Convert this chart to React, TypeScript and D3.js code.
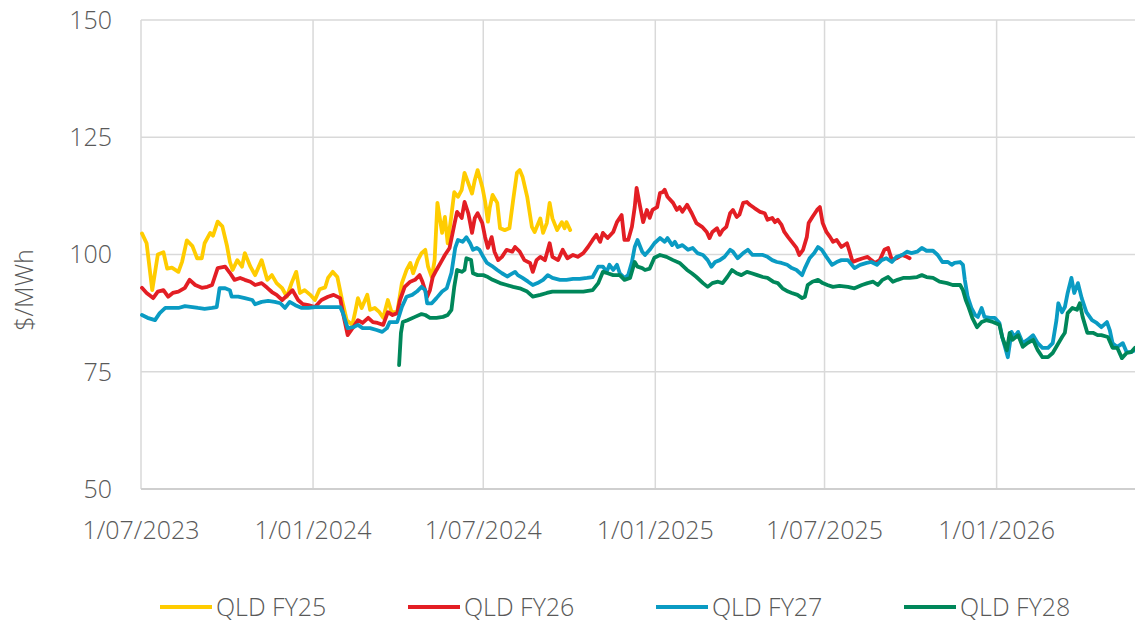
import React from 'react';
import * as d3 from 'd3';

// QLD base futures, $/MWh. Each point: [days since 1/07/2023, price]
const START = new Date(2023, 6, 1);
const END = new Date(2026, 4, 29);

const QLD_FY25: [number, number][] = [
  [1, 104.5], [6, 102.4], [12, 92.4], [18, 100], [24, 100.5], [28, 97], [33, 97.2], [40, 96.3],
  [44, 98.5], [49, 103], [55, 101.8], [60, 99.2], [65, 99.2], [68, 102.4], [74, 104.6], [77, 104],
  [82, 107], [87, 106], [92, 101.8], [95, 98.5], [98, 96.7], [103, 98.8], [108, 97.4], [111, 100.3],
  [117, 97.4], [122, 95.6], [129, 98.8], [135, 94.6], [140, 95.6], [145, 93.9], [151, 92.8], [156, 91],
  [161, 93.9], [166, 96.3], [170, 91.8], [175, 92.4], [181, 91.4], [186, 90.3], [191, 92.6], [197, 93],
  [200, 95], [205, 96.3], [210, 95.2], [215, 90.3], [220, 86], [226, 85], [229, 87.7], [232, 90.7],
  [236, 88.6], [242, 91.4], [245, 88.2], [250, 88.6], [255, 87.7], [259, 86.5], [264, 90.3], [268, 87.7],
  [274, 87.7], [279, 93.9], [284, 96.7], [288, 98.2], [291, 96], [296, 98.8], [300, 100.3], [304, 101],
  [307, 97.4], [311, 95.2], [314, 98.8], [317, 111], [322, 104.6], [325, 108], [328, 102.4], [332, 108.4],
  [335, 113.3], [339, 112.3], [343, 113.8], [346, 117.4], [350, 115.2], [354, 113], [357, 115.9], [360, 118],
  [365, 114.4], [368, 111.3], [371, 107], [373, 110], [376, 112.7], [381, 111], [384, 105.6], [389, 105.2],
  [394, 105.6], [398, 111.6], [402, 117.4], [405, 118], [408, 116.6], [413, 112.3], [418, 105.9], [421, 104.8],
  [427, 107.7], [430, 104.6], [434, 106.7], [437, 111], [440, 107.7], [445, 105.2], [450, 106.9], [453, 105.6],
  [455, 106.9], [459, 105.2],
];

const QLD_FY26: [number, number][] = [
  [1, 92.9], [6, 91.8], [13, 90.7], [18, 92.1], [24, 92.4], [29, 91], [34, 91.8], [40, 92.1],
  [47, 92.9], [52, 94.6], [58, 93.5], [65, 92.9], [71, 93.1], [76, 93.5], [82, 97.1], [90, 97.4],
  [95, 96.1], [100, 94.6], [106, 95], [111, 94.6], [117, 94.2], [122, 93.5], [129, 93.9], [135, 92.9],
  [140, 92], [145, 91.4], [151, 90.3], [157, 91.4], [162, 92.4], [168, 90.3], [173, 89.4], [179, 89.2],
  [186, 88.8], [193, 90.3], [200, 91], [206, 91.4], [213, 90.7], [216, 87.5], [221, 82.8], [227, 84.5],
  [232, 86], [237, 85.4], [243, 86.5], [248, 85.6], [253, 85.4], [259, 85], [264, 87.7], [269, 87.1],
  [274, 87.5], [277, 90.3], [282, 93.1], [288, 94.2], [293, 94.6], [298, 95.6], [301, 94.2], [306, 91],
  [309, 92.4], [312, 95.2], [316, 96.7], [322, 98.8], [325, 99.9], [330, 101.4], [335, 106.3], [338, 109.1],
  [343, 107.8], [346, 111.2], [350, 108.8], [354, 104.6], [357, 107.8], [360, 108.8], [365, 106.7], [368, 103.7],
  [371, 101.4], [375, 103.7], [378, 100.6], [382, 98.8], [386, 99.5], [391, 101], [397, 100.6], [400, 101.6],
  [405, 100.6], [410, 98.8], [416, 98.2], [419, 96.3], [423, 98.8], [427, 99.5], [432, 98.8], [437, 102.4],
  [440, 99.5], [446, 98.8], [451, 101], [456, 99.2], [462, 99.9], [467, 99.5], [473, 100.3], [478, 101.6],
  [483, 103.1], [487, 104.2], [491, 102.7], [494, 104.6], [499, 103.5], [505, 104.8], [509, 106.9], [514, 108.4],
  [517, 103.1], [521, 103.1], [525, 105.9], [528, 110.1], [530, 114.2], [533, 111], [537, 106.9], [541, 109.5],
  [544, 107.8], [547, 109.5], [552, 110.1], [555, 113.1], [558, 113.3], [560, 113.8], [563, 112.3], [569, 111],
  [573, 109.5], [576, 110.1], [579, 109.1], [584, 110.6], [589, 108.8], [594, 106.7], [600, 105.9], [605, 104.8],
  [608, 103.5], [611, 104.8], [616, 105.6], [619, 104.2], [622, 105.2], [626, 105.9], [630, 108.8], [633, 109.5],
  [637, 108], [640, 108.5], [644, 111], [648, 111.2], [651, 110.6], [656, 109.9], [662, 109.1], [667, 108.8],
  [670, 107.4], [675, 107.8], [678, 106.9], [681, 107.4], [685, 106.3], [688, 104.8], [692, 103.7], [696, 102.7],
  [701, 101.4], [704, 99.9], [708, 101], [712, 103.7], [714, 106.7], [718, 108], [723, 109.5], [726, 110.1],
  [729, 106.7], [733, 104.8], [737, 103.7], [740, 102.7], [744, 103.1], [749, 101.6], [755, 102.4], [758, 100.5],
  [761, 98.4], [766, 98.8], [772, 99.2], [777, 99.5], [781, 98.8], [785, 98.2], [790, 98.8], [795, 101],
  [799, 101.4], [803, 98.8], [808, 99.2], [814, 99.9], [819, 99.5], [822, 99.2],
];

const QLD_FY27: [number, number][] = [
  [1, 87.1], [7, 86.5], [15, 86], [20, 87.5], [26, 88.6], [33, 88.6], [40, 88.6], [47, 89],
  [55, 88.8], [61, 88.6], [68, 88.4], [76, 88.6], [81, 88.8], [84, 92.8], [90, 92.8], [95, 92.4],
  [97, 91], [104, 91], [111, 90.7], [119, 90.3], [122, 89.4], [129, 89.9], [136, 90.1], [143, 89.9],
  [149, 89.6], [154, 88.6], [159, 89.9], [165, 89.2], [172, 88.6], [179, 88.6], [186, 88.8], [197, 88.8],
  [206, 88.8], [213, 88.8], [216, 87.5], [221, 84.3], [227, 84.5], [232, 85], [237, 84.3], [245, 84.3],
  [252, 83.9], [258, 83.5], [263, 84.3], [266, 85.6], [274, 85.6], [279, 88.8], [284, 91], [290, 91.4],
  [295, 92.1], [300, 93.1], [304, 92.4], [306, 89.6], [311, 89.6], [316, 90.7], [322, 92.1], [327, 92.8],
  [332, 96.1], [336, 101.4], [339, 103.1], [344, 102.7], [348, 103.7], [352, 102.4], [355, 101], [359, 101.4],
  [362, 101], [366, 99.5], [370, 98.2], [375, 97.6], [381, 96.7], [386, 96], [392, 95.3], [394, 95.6],
  [400, 96.3], [403, 95.6], [408, 95], [414, 94.2], [419, 93.5], [424, 93.9], [430, 94.6], [435, 95.6],
  [440, 95], [448, 94.6], [455, 94.6], [462, 94.8], [469, 94.8], [477, 95], [483, 95.2], [489, 97.4],
  [494, 97.4], [498, 96.3], [501, 97.8], [505, 96.7], [509, 97.8], [512, 96], [517, 95], [521, 95.6],
  [525, 98.4], [528, 101.6], [531, 103.1], [536, 100.6], [539, 99.9], [544, 101], [549, 102.4], [555, 103.5],
  [560, 102.7], [563, 103.5], [568, 102], [571, 102.7], [574, 101.6], [579, 102], [585, 101], [590, 101.4],
  [595, 100.3], [601, 99.9], [606, 98.8], [610, 97.4], [614, 98.4], [619, 98.8], [624, 99.5], [630, 101],
  [633, 100.6], [638, 99.2], [644, 100.3], [649, 101], [654, 99.9], [660, 99.9], [665, 99.9], [670, 99.5],
  [675, 98.8], [680, 98.4], [685, 98.2], [691, 97.8], [696, 97.1], [701, 96.7], [707, 95.6], [710, 97.1],
  [715, 99.2], [720, 100.3], [724, 101.6], [728, 101], [733, 99.5], [739, 97.8], [744, 98.4], [749, 98.8],
  [756, 98.8], [763, 97.1], [769, 97.8], [776, 98.2], [781, 98.4], [787, 97.8], [792, 98.8], [797, 99.2],
  [803, 98.4], [808, 99.5], [814, 99.9], [819, 100.6], [824, 100.3], [830, 100.6], [835, 101.4], [840, 100.8],
  [847, 100.8], [852, 99.9], [857, 98.4], [863, 98.4], [867, 97.8], [870, 98.2], [876, 98.4], [879, 97.8],
  [881, 94.6], [884, 91], [888, 88.6], [892, 87.1], [895, 86.7], [899, 88.6], [902, 86.7], [908, 86.5],
  [913, 86.5], [918, 85.4], [921, 82.4], [927, 78.1], [931, 83.5], [934, 82.4], [938, 83.5], [943, 81.1],
  [948, 81.8], [954, 82.8], [959, 81.1], [964, 80.1], [970, 80.1], [975, 81.1], [979, 86], [981, 89.6],
  [985, 87.7], [988, 88.8], [991, 91.8], [995, 95], [998, 91.8], [1002, 93.9], [1006, 90.7], [1011, 87.7],
  [1017, 86], [1022, 85.4], [1027, 84.5], [1033, 85.6], [1036, 83.9], [1039, 81.1], [1044, 80.3], [1050, 81.1],
  [1054, 79.2], [1059, 79.2], [1063, 79.6],
];

const QLD_FY28: [number, number][] = [
  [276, 76.4], [278, 83.3], [280, 85.6], [285, 86], [293, 86.7], [300, 87.3], [304, 87.1], [309, 86.5],
  [316, 86.5], [323, 86.7], [328, 87.1], [332, 88.2], [335, 93.1], [338, 96.7], [343, 96.3], [346, 96.7],
  [348, 99.2], [353, 98.8], [355, 96], [360, 95.6], [366, 95.6], [371, 95.2], [376, 94.6], [384, 93.9],
  [391, 93.5], [398, 93.1], [405, 92.8], [413, 92.1], [419, 91], [427, 91.4], [434, 91.8], [440, 92.1],
  [451, 92.1], [462, 92.1], [473, 92.1], [483, 92.4], [489, 93.9], [494, 96.3], [499, 96], [505, 95.6],
  [512, 95.6], [517, 94.6], [523, 95], [528, 98.4], [531, 97.4], [536, 97.1], [539, 96.7], [544, 97],
  [549, 99.3], [555, 99.9], [562, 99.5], [569, 98.8], [576, 98.2], [584, 96.7], [589, 96], [594, 95.2],
  [601, 93.9], [606, 93.1], [611, 93.9], [617, 94.2], [622, 93.9], [627, 95.2], [632, 96.7], [637, 96],
  [642, 95.6], [648, 96.3], [653, 96], [659, 95.6], [665, 95.2], [670, 95], [676, 94.2], [681, 93.9],
  [686, 92.8], [692, 92.1], [696, 91.8], [702, 91.4], [707, 90.7], [710, 91], [713, 93.5], [718, 94.2],
  [724, 94.6], [729, 93.9], [734, 93.5], [740, 93.1], [747, 93.3], [756, 93.1], [763, 92.8], [771, 93.5],
  [777, 93.9], [783, 94.2], [788, 93.5], [793, 94.6], [799, 95.2], [804, 94.2], [809, 94.6], [815, 95],
  [822, 95], [830, 95.2], [835, 95.6], [840, 95.2], [847, 95], [854, 94.2], [862, 93.9], [868, 93.5],
  [876, 93.5], [879, 92.4], [882, 90.3], [885, 88.8], [889, 86.5], [894, 84.5], [899, 85.6], [904, 86],
  [911, 85.6], [918, 85], [921, 82.4], [926, 79.6], [929, 83.3], [932, 81.8], [938, 82.8], [943, 80.3],
  [948, 81.1], [954, 81.8], [959, 79.6], [964, 78.1], [970, 78.1], [975, 79], [980, 80.7], [985, 82.4],
  [988, 83.3], [991, 87.5], [996, 88.6], [1001, 88.2], [1004, 89.6], [1007, 86.7], [1012, 83.3], [1018, 83.3],
  [1023, 82.8], [1027, 82.8], [1034, 82.4], [1039, 80.1], [1044, 80.1], [1049, 77.9], [1054, 79], [1059, 79.2],
  [1063, 80.1],
];

const SERIES_NAMES = ['QLD FY25', 'QLD FY26', 'QLD FY27', 'QLD FY28'];
const SERIES_DATA = [QLD_FY25, QLD_FY26, QLD_FY27, QLD_FY28];
const SERIES_COLORS = ['#FFCC00', '#E31E24', '#0A9BC3', '#00875A'];
const Y_TICKS = [50, 75, 100, 125, 150];

const W = 1135;
const H = 624;
const margin = { top: 20, right: 0, bottom: 135, left: 141 };
const FONT = "'Open Sans', Lato, sans-serif";
const TEXT = '#595959';
const GRID = '#d9d9d9';
const FS = 25;

export default function App() {
  const x = d3.scaleTime().domain([START, END]).range([margin.left, W - margin.right]);
  const y = d3.scaleLinear().domain([50, 150]).range([H - margin.bottom, margin.top]);
  const xTicks = d3.timeMonth.every(6)!.range(START, END);
  const fmt = d3.timeFormat('%-d/%m/%Y');

  const line = d3
    .line<[number, number]>()
    .x(d => x(d3.timeDay.offset(START, d[0])))
    .y(d => y(d[1]));

  const plotBottom = y(50);

  return (
    <svg width={W} height={H} style={{ position: 'absolute', left: 0, top: 0, background: '#fff' }}
      fontFamily={FONT}>
      {/* grid */}
      {Y_TICKS.map(t => (
        <line key={'h' + t} x1={margin.left} x2={W} y1={y(t)} y2={y(t)} stroke={GRID} strokeWidth={1.5} />
      ))}
      {xTicks.map((t, i) => (
        <line key={'v' + i} x1={x(t)} x2={x(t)} y1={margin.top} y2={plotBottom} stroke={GRID} strokeWidth={1.5} />
      ))}
      <line x1={margin.left} x2={W} y1={plotBottom} y2={plotBottom} stroke="#cfcfcf" strokeWidth={2} />

      {/* y labels */}
      {Y_TICKS.map(t => (
        <text key={'yl' + t} x={112} y={y(t)} dy="0.35em" textAnchor="end" fontSize={FS} fontWeight={300} fill={TEXT}>
          {t}
        </text>
      ))}
      <text transform={`translate(33,290) rotate(-90)`} textAnchor="middle" fontSize={FS} fontWeight={300} fill={TEXT}>
        $/MWh
      </text>

      {/* x labels */}
      {xTicks.map((t, i) => (
        <text key={'xl' + i} x={x(t)} y={530} dy="0.35em" textAnchor="middle" fontSize={FS} fontWeight={300} fill={TEXT}>
          {fmt(t)}
        </text>
      ))}

      {/* series */}
      {SERIES_DATA.map((data, i) => (
        <path key={SERIES_NAMES[i]} d={line(data) || ''} fill="none" stroke={SERIES_COLORS[i]}
          strokeWidth={3.8} strokeLinejoin="round" strokeLinecap="round" />
      ))}

      {/* legend */}
      {SERIES_NAMES.map((name, i) => {
        const lx = 160 + i * 248;
        return (
          <g key={'lg' + name} transform={`translate(${lx},607)`}>
            <line x1={0} x2={52} y1={0} y2={0} stroke={SERIES_COLORS[i]} strokeWidth={4} />
            <text x={56} y={0} dy="0.35em" fontSize={FS} fontWeight={300} fill={TEXT}>{name}</text>
          </g>
        );
      })}
    </svg>
  );
}
